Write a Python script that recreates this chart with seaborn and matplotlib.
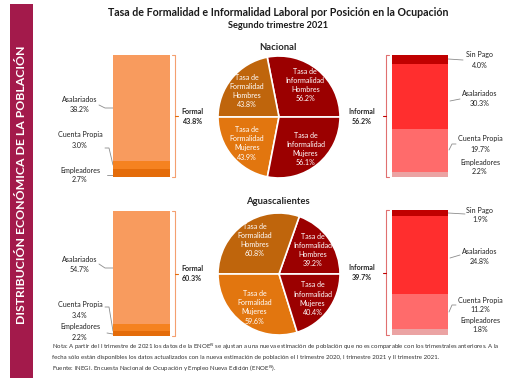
import numpy as np
import matplotlib
matplotlib.use("Agg")
import matplotlib.pyplot as plt
import seaborn as sns
from matplotlib.patches import Rectangle

# data
groups = ["Nacional", "Aguascalientes"]
formal_labels = ["Asalariados", "Cuenta Propia", "Empleadores"]
formal_vals = [[38.2, 3.0, 2.7], [54.7, 3.4, 2.2]]
informal_labels = ["Sin Pago", "Asalariados", "Cuenta Propia", "Empleadores"]
informal_vals = [[4.0, 30.3, 19.7, 2.2], [1.9, 24.8, 11.2, 1.8]]
formal_total = [43.8, 60.3]
informal_total = [56.2, 39.7]
tasa_form_h = [43.8, 60.8]
tasa_form_m = [43.9, 59.6]
tasa_inf_h = [56.2, 39.2]
tasa_inf_m = [56.1, 40.4]

sns.set_theme(style="white")
plt.rcParams['font.family'] = ['Lato', 'DejaVu Sans']

W, H = 512, 383
fig = plt.figure(figsize=(W / 100, H / 100), dpi=100)
fig.patch.set_facecolor("white")

def px_axes(x0, y0, x1, y1):
    return fig.add_axes([x0 / W, 1 - y1 / H, (x1 - x0) / W, (y1 - y0) / H])

# overlay in pixel coords
ov = fig.add_axes([0, 0, 1, 1])
ov.set_xlim(0, W)
ov.set_ylim(H, 0)
ov.axis("off")

band = "#A31A4B"
ov.add_patch(Rectangle((10, 4), 23, 374, color=band, lw=0))
ov.text(21.5, 185, "DISTRIBUCIÓN ECONÓMICA DE LA POBLACIÓN", rotation=90, color="white",
        fontsize=8.8, fontweight="bold", ha="center", va="center")

ov.text(278, 12, "Tasa de Formalidad e Informalidad Laboral por Posición en la Ocupación",
        fontsize=7.7, fontweight="bold", ha="center", va="center", color="#1a1a1a")
ov.text(278, 25, "Segundo trimestre 2021", fontsize=6.7, fontweight="bold",
        ha="center", va="center", color="#1a1a1a")

formal_colors = ["#F89B5E", "#F58220", "#E46C0A"]
informal_colors = ["#C00000", "#FF2E2E", "#FF6B6B", "#EBA3A3"]
pie_colors = ["#9B0000", "#BF650C", "#E2760F", "#9B0000"]
line_c = "#8c8c8c"

# layout per group (pixel positions)
bar_top = [55, 211]
bar_bot = [177, 336]
rbar_top = [55, 210]
rbar_bot = [177, 335]
pie_cy = [117, 274]
head_y = [47, 201]
left_lab_y = [[104, 140, 175], [264, 310, 332]]
right_lab_y = [[60, 98, 144, 167], [215, 257, 305, 325]]
left_lead = [
    [[(99, 105), (105, 108), (113, 108)], [(105, 148), (109, 148), (113, 165)], [(107, 175), (113, 175)]],
    [[(99, 264), (105, 268), (113, 268)], [(105, 307), (109, 307), (113, 331)], [(107, 333), (113, 334)]],
]
right_lead = [
    [[(448, 59), (463, 60)], [(450, 101), (460, 99)], [(449, 150), (452, 144), (456, 144)], None],
    [[(448, 213), (465, 214)], [(450, 258), (460, 255)], [(449, 312), (452, 305), (456, 305)], None],
]

def stacked_bar(ax, vals, colors):
    # draw cumulative heights, largest first, so segments stack bottom-up
    cum = np.cumsum(vals)
    for h, c in sorted(zip(cum, colors), key=lambda t: -t[0]):
        sns.barplot(x=[0], y=[h], color=c, width=1, saturation=1, ax=ax, linewidth=0)
    ax.set_xlim(-0.5, 0.5)
    ax.set_ylim(0, cum[-1])
    ax.axis("off")

for g in range(2):
    ov.text(278, head_y[g], groups[g], fontsize=6.8, fontweight="bold", ha="center", va="center")

    # formal bar (bottom-up order: Empleadores, Cuenta Propia, Asalariados)
    axl = px_axes(113, bar_top[g], 170, bar_bot[g])
    stacked_bar(axl, formal_vals[g][::-1], formal_colors[::-1])
    for i, lab in enumerate(formal_labels):
        ov.text(80, left_lab_y[g][i], f"{lab}\n{formal_vals[g][i]:.1f}%", fontsize=5.1,
                ha="center", va="center", linespacing=1.5, color="#222222")
        pts = left_lead[g][i]
        ov.plot([p[0] for p in pts], [p[1] for p in pts], color=line_c, lw=0.6)

    # informal bar (bottom-up: Empleadores, Cuenta Propia, Asalariados, Sin Pago)
    axr = px_axes(392, rbar_top[g], 448, rbar_bot[g])
    stacked_bar(axr, informal_vals[g][::-1], informal_colors[::-1])
    for i, lab in enumerate(informal_labels):
        ov.text(480, right_lab_y[g][i], f"{lab}\n{informal_vals[g][i]:.1f}%", fontsize=5.1,
                ha="center", va="center", linespacing=1.5, color="#222222")
        pts = right_lead[g][i]
        if pts:
            ov.plot([p[0] for p in pts], [p[1] for p in pts], color=line_c, lw=0.6)

    # brackets
    t, b = bar_top[g], bar_bot[g]
    m = (t + b) / 2
    ov.plot([172, 175, 175, 172], [t, t, b, b], color="#F4A070", lw=0.8)
    ov.plot([175, 178], [m, m], color="#E46C0A", lw=0.8)
    ov.text(192, m, f"Formal\n{formal_total[g]:.1f}%", fontsize=5.1, fontweight="bold",
            ha="center", va="center", linespacing=1.5)
    t, b = rbar_top[g], rbar_bot[g]
    m = (t + b) / 2
    ov.plot([389, 386, 386, 389], [t, t, b, b], color="#E07070", lw=0.8)
    ov.plot([383, 386], [m, m], color="#C00000", lw=0.8)
    ov.text(362, m, f"Informal\n{informal_total[g]:.1f}%", fontsize=5.1, fontweight="bold",
            ha="center", va="center", linespacing=1.5)

    # pie: top half men, bottom half women
    r = 61
    cy = pie_cy[g]
    axp = px_axes(279 - r * 1.02, cy - r * 1.02, 279 + r * 1.02, cy + r * 1.02)
    vals = [tasa_inf_h[g], tasa_form_h[g], tasa_form_m[g], tasa_inf_m[g]]
    labs = [f"Tasa de\nInformalidad\nHombres\n{tasa_inf_h[g]:.1f}%",
            f"Tasa de\nFormalidad\nHombres\n{tasa_form_h[g]:.1f}%",
            f"Tasa de\nFormalidad\nMujeres\n{tasa_form_m[g]:.1f}%",
            f"Tasa de\nInformalidad\nMujeres\n{tasa_inf_m[g]:.1f}%"]
    axp.pie(vals, colors=pie_colors, startangle=0, counterclock=True, labels=labs,
            labeldistance=0.68,
            wedgeprops=dict(edgecolor="white", linewidth=1.2),
            textprops=dict(color="white", fontsize=5.1, ha="center", va="center", linespacing=1.35))
    axp.set_xlim(-1.02, 1.02)
    axp.set_ylim(-1.02, 1.02)
    axp.set_aspect("equal")

# footnote
fn = 4.45
ov.text(52, 347, "Nota: A partir del I trimestre de 2021 los datos de la ENOE$^{N}$ se ajustan a una nueva "
        "estimación de población que no es comparable con los trimestrales anteriores. A la",
        fontsize=fn, ha="left", va="center", color="#333333")
ov.text(52, 358, "fecha sólo están disponibles los datos actualizados con la nueva estimación de población "
        "el I trimestre 2020, I trimestre 2021 y II trimestre 2021.",
        fontsize=fn, ha="left", va="center", color="#333333")
ov.text(52, 369, "Fuente: INEGI. Encuesta Nacional de Ocupación y Empleo Nueva Edición (ENOE$^{N}$).",
        fontsize=fn, ha="left", va="center", color="#333333")

fig.savefig("out.png", dpi=100, facecolor="white")
